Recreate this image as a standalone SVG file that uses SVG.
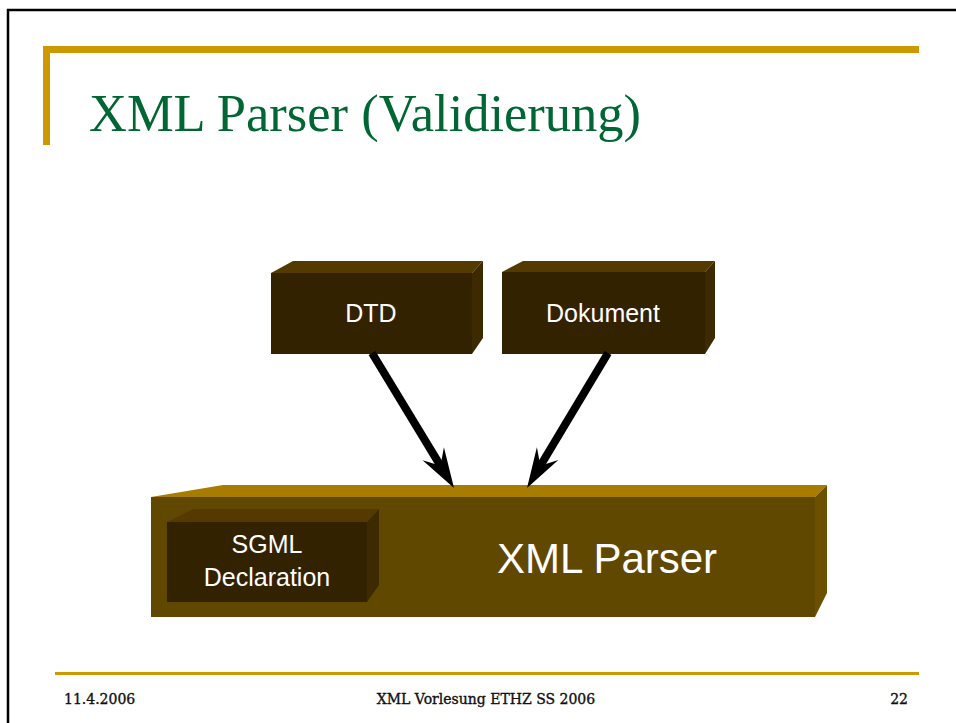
<svg xmlns="http://www.w3.org/2000/svg" width="956" height="723" viewBox="0 0 956 723">
  <style>
    .title { font-family: "Liberation Serif", "Times New Roman", serif; font-size: 52.5px; fill: #006633; }
    .foot { font-family: "DejaVu Serif", "Liberation Serif", serif; font-size: 14px; fill: #111111; stroke: #111111; stroke-width: 0.35; }
    .lbl { font-family: "Liberation Sans", Arial, sans-serif; fill: #ffffff; text-anchor: middle; }
    .gold { fill: #cc9900; }
    .dk-front { fill: #332200; }
    .dk-top { fill: #553a00; }
    .dk-side { fill: #3d2a00; }
    .conn { stroke: #000000; stroke-width: 8; fill: none; marker-end: url(#head); }
  </style>
  <defs>
    <!-- stealth-style arrowhead; reference point sits at the notch where the shaft ends -->
    <marker id="head" markerUnits="userSpaceOnUse" orient="auto" viewBox="-16 -14 44 28" markerWidth="44" markerHeight="28" refX="0" refY="0">
      <path d="M26,0 L-14,-12.5 L0,0 L-14,12.5 Z" fill="#000000"/>
    </marker>
  </defs>

  <rect width="956" height="723" fill="#ffffff"/>

  <!-- slide frame -->
  <path d="M8,723 V10 H956" fill="none" stroke="#000000" stroke-width="2.5"/>

  <!-- title decoration -->
  <rect class="gold" x="43" y="46" width="876" height="7"/>
  <rect class="gold" x="43" y="46" width="7" height="99"/>
  <text class="title" x="89" y="131">XML Parser (Validierung)</text>

  <!-- XML Parser block -->
  <g id="xml-parser">
    <polygon points="151,497 223,485 827,485 815,497" fill="#a87c00"/>
    <polygon points="815,497 827,485 827,593 815,617" fill="#6a5000"/>
    <rect x="151" y="497" width="664" height="120" fill="#604800"/>
    <text class="lbl" x="607" y="573" font-size="42">XML Parser</text>
  </g>

  <!-- SGML Declaration block inside the parser -->
  <g id="sgml-declaration">
    <polygon class="dk-top" points="167,522 193,509 379,509 367,522"/>
    <polygon class="dk-side" points="367,522 379,509 379,585 367,602"/>
    <rect class="dk-front" x="167" y="522" width="200" height="80"/>
    <text class="lbl" x="267" y="553" font-size="25">SGML</text>
    <text class="lbl" x="267" y="586" font-size="25">Declaration</text>
  </g>

  <!-- DTD block -->
  <g id="dtd">
    <polygon class="dk-top" points="271,273 293,261 483,261 472,273"/>
    <polygon class="dk-side" points="472,273 483,261 483,338 472,354"/>
    <rect class="dk-front" x="271" y="273" width="201" height="81"/>
    <text class="lbl" x="371" y="322" font-size="25">DTD</text>
  </g>

  <!-- Dokument block -->
  <g id="dokument">
    <polygon class="dk-top" points="502,272 523,261 715,261 705,272"/>
    <polygon class="dk-side" points="705,272 715,261 715,338 705,354"/>
    <rect class="dk-front" x="502" y="272" width="203" height="82"/>
    <text class="lbl" x="603" y="322" font-size="25">Dokument</text>
  </g>

  <!-- connectors -->
  <g id="connectors">
    <line class="conn" x1="372" y1="353" x2="440.5" y2="465.8"/>
    <line class="conn" x1="608" y1="353" x2="540.4" y2="465.7"/>
  </g>

  <!-- footer -->
  <rect class="gold" x="55" y="672" width="864" height="3"/>
  <text class="foot" x="64" y="704">11.4.2006</text>
  <text class="foot" x="486" y="704" text-anchor="middle">XML Vorlesung ETHZ SS 2006</text>
  <text class="foot" x="908" y="704" text-anchor="end">22</text>
</svg>
